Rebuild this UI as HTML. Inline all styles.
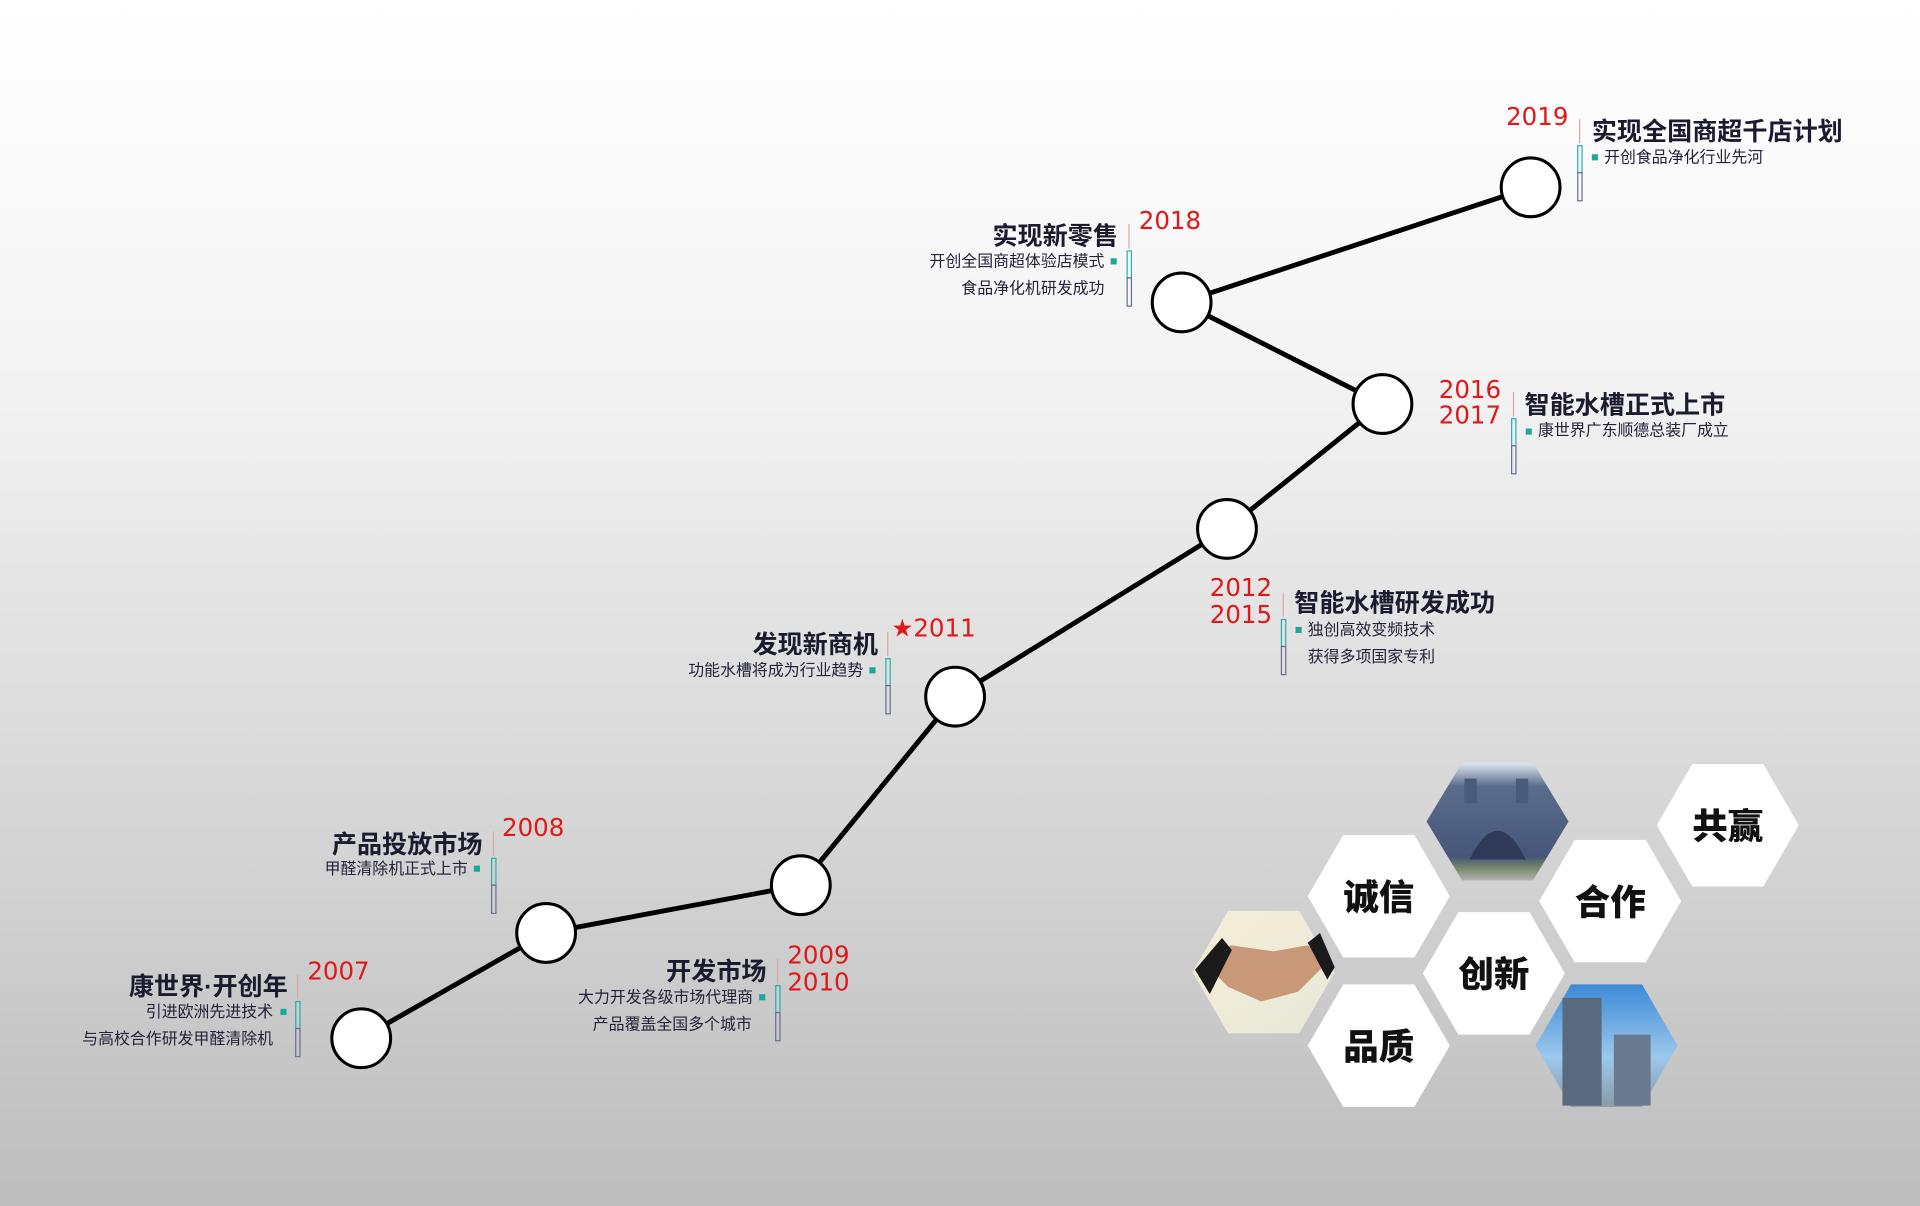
<!DOCTYPE html>
<html><head><meta charset="utf-8"><style>
html,body{margin:0;padding:0;width:1920px;height:1206px;overflow:hidden;}
svg{display:block}
.t{font-family:"Liberation Sans","Noto Sans CJK SC",sans-serif;font-weight:bold;font-size:20.5px;fill:#1b1b30}
.s{font-family:"Liberation Sans","Noto Sans CJK SC",sans-serif;font-size:13px;fill:#22223a}
.y{font-family:"DejaVu Sans","Noto Sans CJK SC",sans-serif;font-size:20px;fill:#e01818}
.h{font-family:"Liberation Sans","Noto Sans CJK SC",sans-serif;font-weight:900;font-size:29px;fill:#111}
</style></head><body>
<svg width="1920" height="1206" viewBox="0 0 1568 985" preserveAspectRatio="none" xmlns="http://www.w3.org/2000/svg">
<defs>
<linearGradient id="bg" x1="0" y1="0" x2="0" y2="1">
<stop offset="0" stop-color="#ffffff"/><stop offset="0.3" stop-color="#f4f4f4"/><stop offset="0.6" stop-color="#dcdcdc"/><stop offset="1" stop-color="#bdbdbd"/>
</linearGradient>
<linearGradient id="bld" x1="0" y1="0" x2="0" y2="1"><stop offset="0" stop-color="#dfe6f0"/><stop offset="0.2" stop-color="#5a6c8c"/><stop offset="0.8" stop-color="#46567a"/><stop offset="0.9" stop-color="#7a8a6a"/><stop offset="1" stop-color="#b0b0b0"/></linearGradient>
<linearGradient id="hs" x1="0" y1="0" x2="1" y2="1"><stop offset="0" stop-color="#f5eed8"/><stop offset="1" stop-color="#e8e8d8"/></linearGradient>
<linearGradient id="tw" x1="0" y1="0" x2="0" y2="1"><stop offset="0" stop-color="#3d8ad8"/><stop offset="0.6" stop-color="#9cc8ec"/><stop offset="1" stop-color="#8a9aa8"/></linearGradient>
<g id="bar"><line x1="0" y1="0" x2="0" y2="20" stroke="#d9a8a0" stroke-width="1"/><rect x="-1.5" y="22" width="3.5" height="22" fill="none" stroke="#2bb0a8" stroke-width="1"/><rect x="-1.5" y="44" width="3.5" height="23" fill="none" stroke="#6a6f90" stroke-width="1"/></g>
</defs>
<rect width="1568" height="985" fill="url(#bg)"/>
<polyline points="295,848 446,762 654,723 780,569 1002,432 1129,330 965,247 1250,153" fill="none" stroke="#000" stroke-width="4"/>
<g fill="#fff" stroke="#000" stroke-width="2.5">
<circle cx="295" cy="848" r="24"/><circle cx="446" cy="762" r="24"/><circle cx="654" cy="723" r="24"/><circle cx="780" cy="569" r="24"/><circle cx="1002" cy="432" r="24"/><circle cx="1129" cy="330" r="24"/><circle cx="965" cy="247" r="24"/><circle cx="1250" cy="153" r="24"/>
</g>
<g dominant-baseline="central">
<text class="y" x="1230" y="95">2019</text>
<use href="#bar" x="1290" y="97"/>
<text class="t" x="1300" y="108">实现全国商超千店计划</text>
<rect x="1300" y="126" width="5" height="5" fill="#1aa89a"/><text class="s" x="1310" y="129">开创食品净化行业先河</text>
<text class="y" x="930" y="180">2018</text>
<use href="#bar" x="922" y="183"/>
<text class="t" x="913" y="193" text-anchor="end">实现新零售</text>
<text class="s" x="902" y="214" text-anchor="end">开创全国商超体验店模式</text><rect x="907" y="211" width="5" height="5" fill="#1aa89a"/>
<text class="s" x="902" y="236" text-anchor="end">食品净化机研发成功</text>
<text class="y" x="1175" y="318">2016</text><text class="y" x="1175" y="339">2017</text>
<use href="#bar" x="1236" y="320"/>
<text class="t" x="1245" y="331">智能水槽正式上市</text>
<rect x="1246" y="350" width="5" height="5" fill="#1aa89a"/><text class="s" x="1256" y="352">康世界广东顺德总装厂成立</text>
<text class="y" x="988" y="480">2012</text><text class="y" x="988" y="502">2015</text>
<use href="#bar" x="1048" y="484"/>
<text class="t" x="1057" y="493">智能水槽研发成功</text>
<rect x="1058" y="512" width="5" height="5" fill="#1aa89a"/><text class="s" x="1068" y="515">独创高效变频技术</text>
<text class="s" x="1068" y="537">获得多项国家专利</text>
<text class="y" x="728" y="513">★2011</text>
<use href="#bar" x="725" y="516"/>
<text class="t" x="717" y="527" text-anchor="end">发现新商机</text>
<text class="s" x="705" y="548" text-anchor="end">功能水槽将成为行业趋势</text><rect x="710" y="545" width="5" height="5" fill="#1aa89a"/>
<text class="y" x="410" y="676">2008</text>
<use href="#bar" x="403" y="679"/>
<text class="t" x="394" y="690" text-anchor="end">产品投放市场</text>
<text class="s" x="382" y="710" text-anchor="end">甲醛清除机正式上市</text><rect x="387" y="707" width="5" height="5" fill="#1aa89a"/>
<text class="y" x="643" y="780">2009</text><text class="y" x="643" y="802">2010</text>
<use href="#bar" x="635" y="783"/>
<text class="t" x="626" y="794" text-anchor="end">开发市场</text>
<text class="s" x="615" y="815" text-anchor="end">大力开发各级市场代理商</text><rect x="620" y="812" width="5" height="5" fill="#1aa89a"/>
<text class="s" x="614" y="837" text-anchor="end">产品覆盖全国多个城市</text>
<text class="y" x="251" y="793">2007</text>
<use href="#bar" x="243" y="796"/>
<text class="t" x="235" y="806" text-anchor="end">康世界·开创年</text>
<text class="s" x="223" y="827" text-anchor="end">引进欧洲先进技术</text><rect x="229" y="824" width="5" height="5" fill="#1aa89a"/>
<text class="s" x="223" y="849" text-anchor="end">与高校合作研发甲醛清除机</text>
</g>
<g>
<polygon transform="translate(1223,671)" points="-58,0 -29,-48 29,-48 58,0 29,48 -29,48" fill="url(#bld)"/>
<rect x="1196" y="636" width="10" height="20" fill="#4a5a7a"/><rect x="1238" y="636" width="10" height="20" fill="#4a5a7a"/>
<path d="M1200,702 Q1223,655 1246,702 Z" fill="#2e3a58"/>
<polygon transform="translate(1032,794)" points="-58,0 -29,-50 29,-50 58,0 29,50 -29,50" fill="url(#hs)"/>
<path d="M985,788 L1005,772 L1040,777 L1068,772 L1085,785 L1060,810 L1030,818 L1003,806 Z" fill="#c89878"/>
<path d="M976,792 L998,766 L1006,776 L988,812 Z" fill="#1a1a1a"/><path d="M1068,770 L1078,762 L1090,790 L1084,800 Z" fill="#1a1a1a"/>
<polygon transform="translate(1312,854)" points="-58,0 -29,-50 29,-50 58,0 29,50 -29,50" fill="url(#tw)"/>
<rect x="1276" y="815" width="32" height="88" fill="#5a6a7e"/><rect x="1318" y="845" width="30" height="58" fill="#6a7a8e"/>
<g fill="#fff">
<polygon transform="translate(1126,732)" points="-58,0 -29,-50 29,-50 58,0 29,50 -29,50"/>
<polygon transform="translate(1411,674)" points="-58,0 -29,-50 29,-50 58,0 29,50 -29,50"/>
<polygon transform="translate(1315,736)" points="-58,0 -29,-50 29,-50 58,0 29,50 -29,50"/>
<polygon transform="translate(1220,795)" points="-58,0 -29,-50 29,-50 58,0 29,50 -29,50"/>
<polygon transform="translate(1126,854)" points="-58,0 -29,-50 29,-50 58,0 29,50 -29,50"/>
</g>
<g dominant-baseline="central" text-anchor="middle">
<text class="h" x="1126" y="733">诚信</text>
<text class="h" x="1411" y="675">共赢</text>
<text class="h" x="1315" y="737">合作</text>
<text class="h" x="1220" y="796">创新</text>
<text class="h" x="1126" y="855">品质</text>
</g>
</g>
</svg>
</body></html>
